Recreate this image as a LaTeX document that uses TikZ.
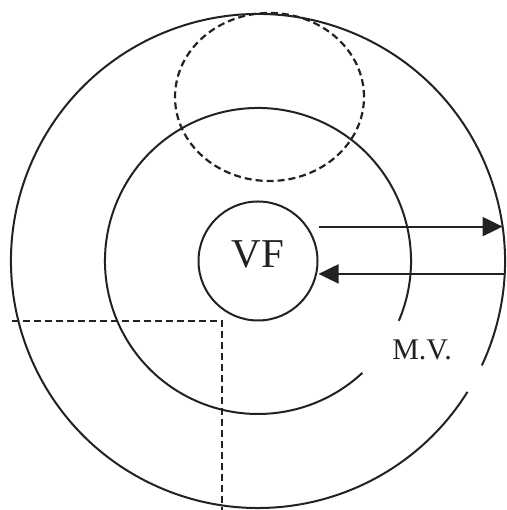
\documentclass[tikz,border=0pt]{standalone}
\usepackage{fontspec}
\setmainfont{Liberation Serif}
\usetikzlibrary{arrows.meta, positioning, calc}
\definecolor{inkgray}{HTML}{222222}

\begin{document}
\begin{tikzpicture}[
      x=1pt, y=1pt,
      ring/.style={draw=inkgray, line width=2pt},
      dashline/.style={draw=inkgray, line width=2.2pt, dash pattern=on 7pt off 4pt},
      arr/.style={-{Triangle[length=20pt, width=19pt]}, line width=2pt, inkgray},
      biglab/.style={font=\fontsize{41}{41}\selectfont, text=inkgray},
      midlab/.style={font=\fontsize{30}{30}\selectfont, text=inkgray}
  ]
    \useasboundingbox (0,0) rectangle (506,510);
    \coordinate (c) at (258,249);

    \draw[ring] ($(c)+(-25:247)$) arc[start angle=-25, end angle=328, radius=247];
    \draw[ring] ($(c)+(-23:153)$) arc[start angle=-23, end angle=313, radius=153];
    \node[ring, circle, minimum size=119pt, inner sep=0pt] (vf) at (c) {};
    \node[biglab] (vflab) at ([yshift=7pt]vf.center) {VF};
    \node[midlab] (mv) at (422,160) {M.V.};

    \draw[dashline] (269.5,413) ellipse [x radius=94.5, y radius=84];
    \coordinate (cut) at (222,189);
    \draw[dashline] (12,189) -- (cut) -- (222,0);

    \coordinate (rimA) at ($(c)+(8:247)$);
    \coordinate (rimB) at ($(c)+(-3:247)$);
    \draw[arr] (vf.east |- rimA) -- (rimA);
    \draw[arr] (rimB) -- (rimB -| vf.east);
  \end{tikzpicture}
\end{document}
